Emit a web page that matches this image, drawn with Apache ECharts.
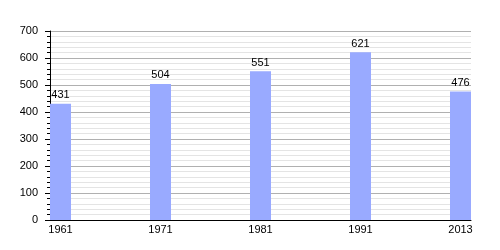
<!DOCTYPE html>
<html>
<head>
<meta charset="utf-8">
<script src="https://cdn.jsdelivr.net/npm/echarts@6/dist/echarts.min.js"></script>
<style>html,body{margin:0;padding:0;background:#fff}#c{width:500px;height:250px}</style>
</head>
<body>
<div id="c"></div>
<script>
var years = ['1961', '1971', '1981', '1991', '2013'];
var population = [431, 504, 551, 621, 476];
var yTicks = [0, 100, 200, 300, 400, 500, 600, 700];

var positions = years.map(function (_, i) { return i; });
var chart = echarts.init(document.getElementById('c'), null, { renderer: 'canvas' });
var font = 'Liberation Sans, Arial, sans-serif';
chart.setOption({
  animation: false,
  backgroundColor: '#ffffff',
  grid: { left: 50, top: 31, width: 421, height: 189, containLabel: false },
  xAxis: {
    type: 'value',
    min: -0.105,
    max: 4.105,
    splitLine: { show: false },
    axisTick: { show: false },
    axisLine: { show: true, onZero: false, lineStyle: { color: '#000', width: 1 } },
    axisLabel: {
      customValues: positions,
      formatter: function (v) { return years[Math.round(v)]; },
      color: '#000', fontFamily: font, fontSize: 11, margin: 4
    }
  },
  yAxis: {
    type: 'value',
    min: yTicks[0],
    max: yTicks[yTicks.length - 1],
    interval: 100,
    axisLine: { show: true, onZero: false, lineStyle: { color: '#000', width: 1 } },
    axisTick: { show: true, length: 5, lineStyle: { color: '#000' } },
    minorTick: { show: true, splitNumber: 5, length: 3, lineStyle: { color: '#000' } },
    splitLine: { show: true, lineStyle: { color: '#b0b0b0', width: 1 } },
    minorSplitLine: { show: true, lineStyle: { color: '#e4e4e4', width: 1 } },
    axisLabel: { color: '#000', fontFamily: font, fontSize: 11, margin: 12 }
  },
  series: [{
    type: 'bar',
    barWidth: 21,
    data: population.map(function (v, i) { return [positions[i], v]; }),
    itemStyle: { color: '#99aaff' },
    label: {
      show: true, position: 'top', distance: 3,
      color: '#000', fontFamily: font, fontSize: 11,
      formatter: function (p) { return p.value[1]; }
    }
  }]
});
</script>
</body>
</html>
